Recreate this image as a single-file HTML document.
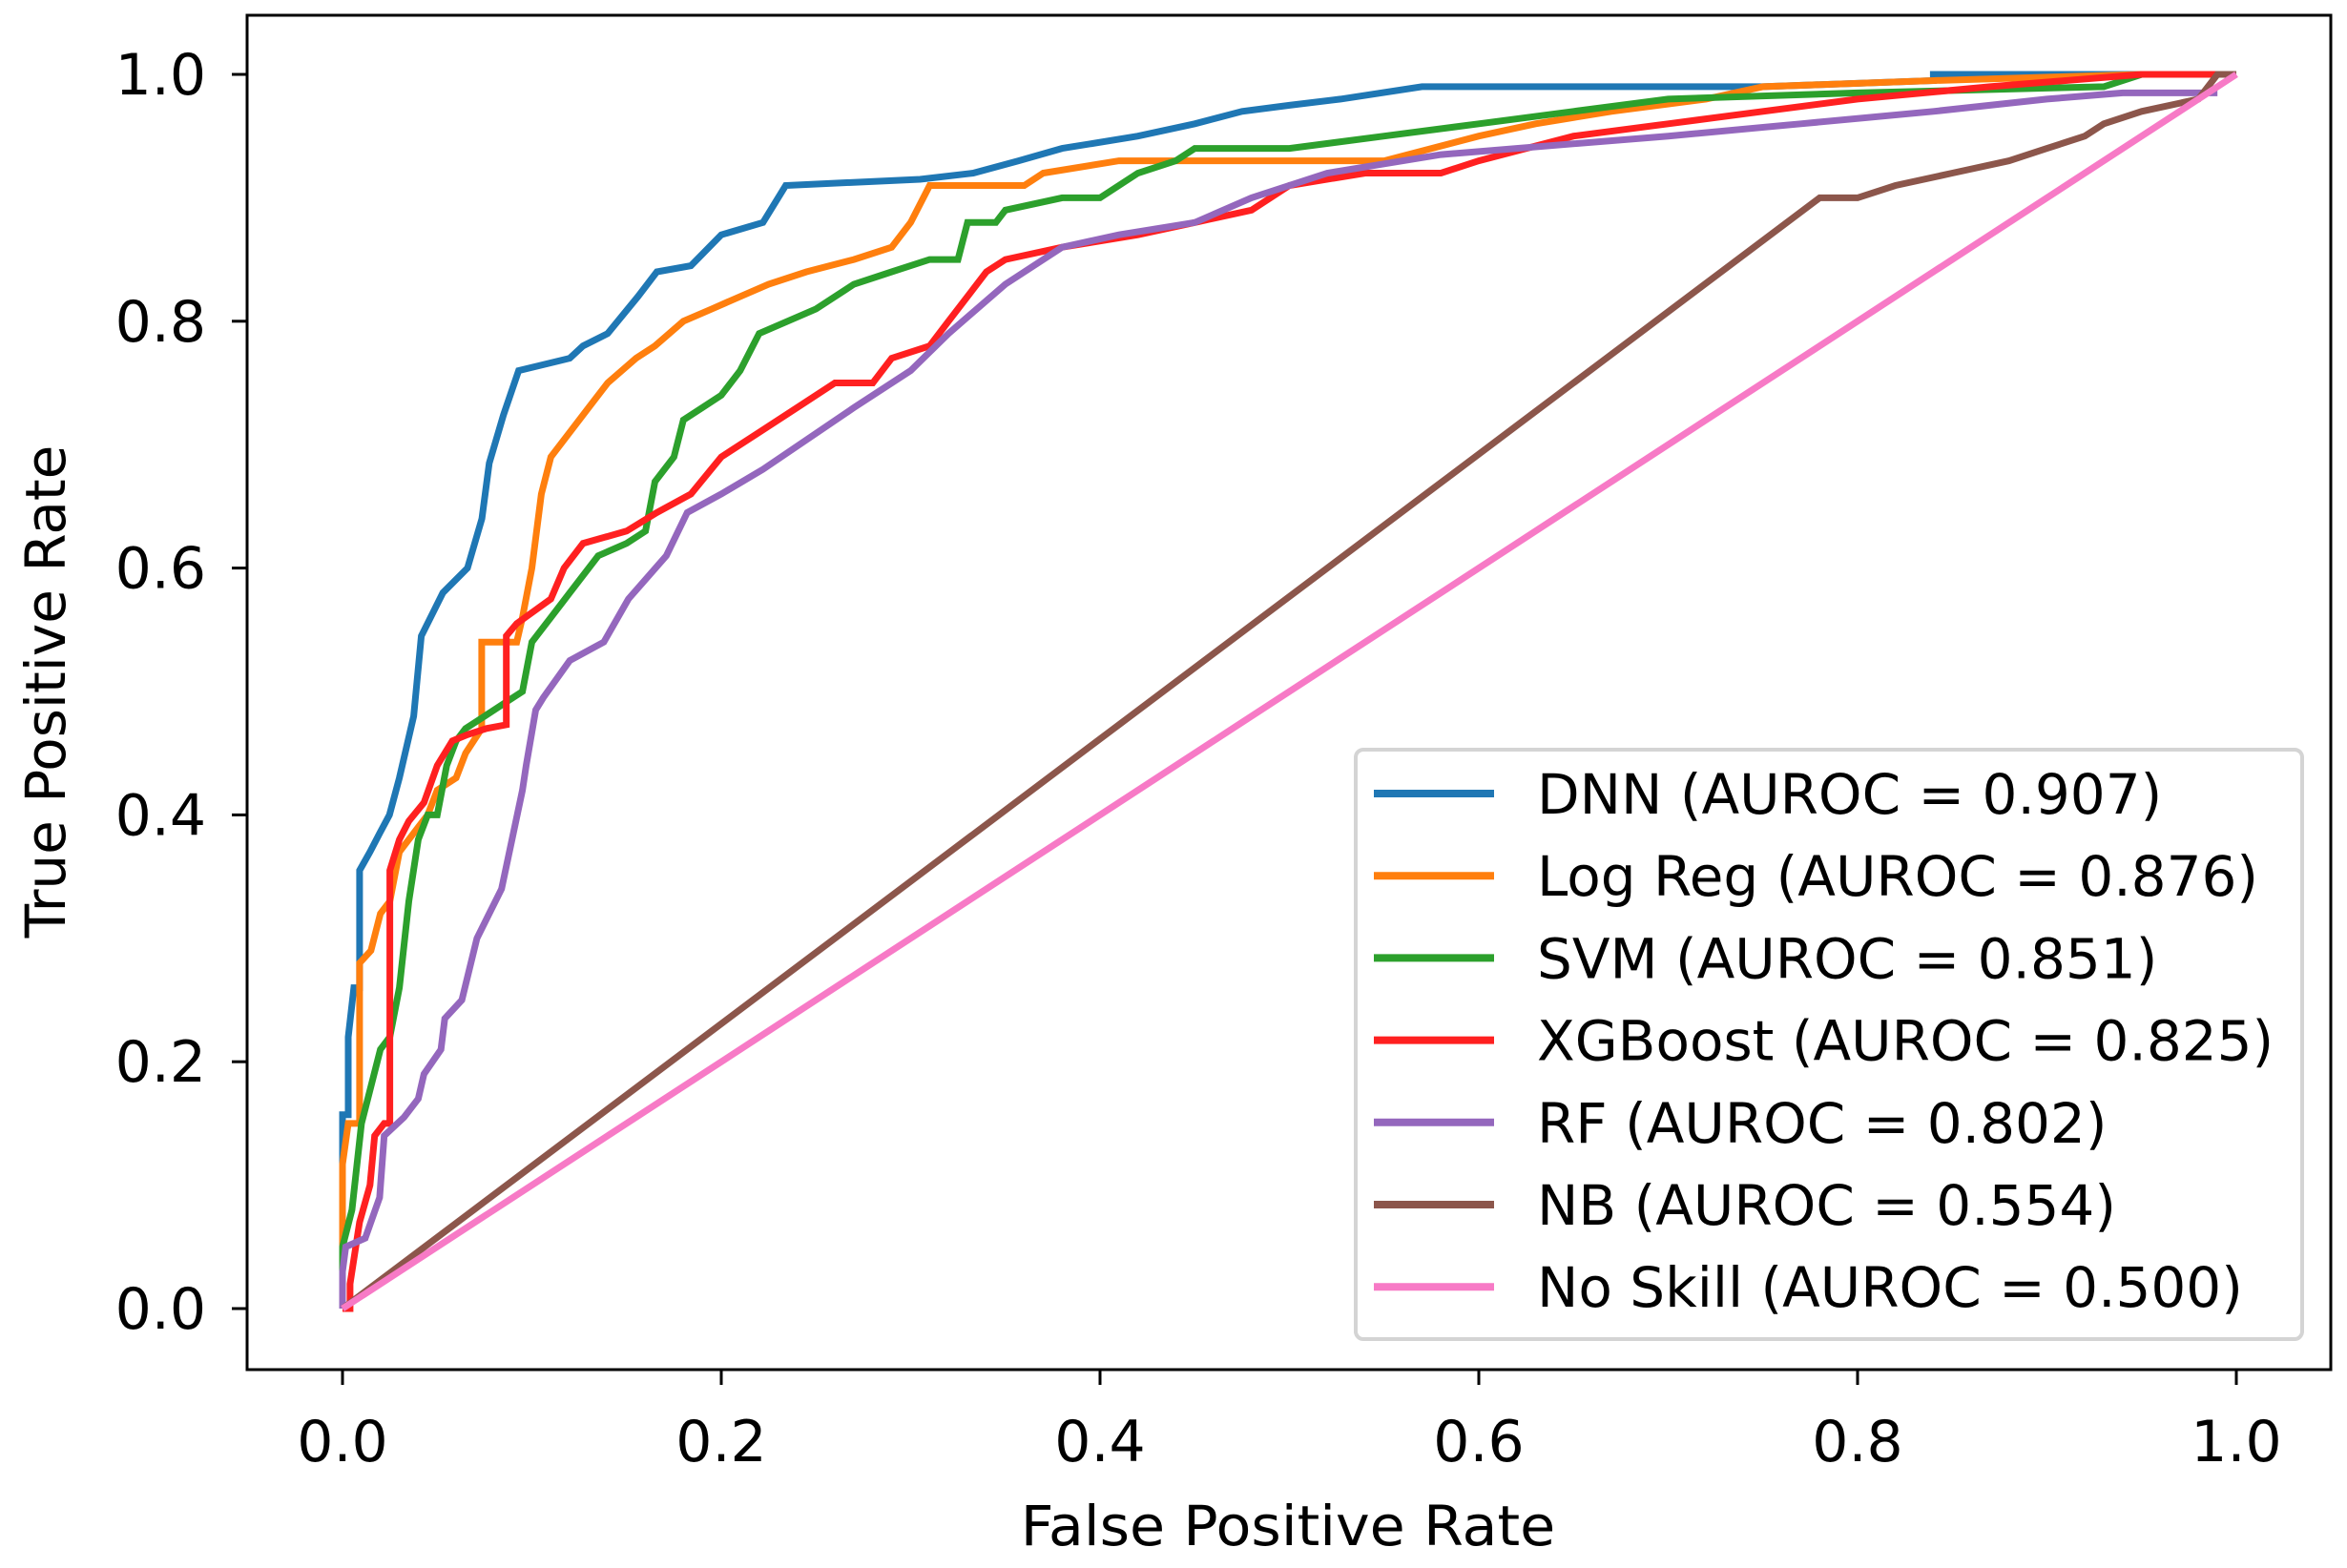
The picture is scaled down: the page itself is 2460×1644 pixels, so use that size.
<!DOCTYPE html>
<html><head><meta charset="utf-8"><style>
body{margin:0;background:#fff;}
svg{display:block;font-family:"DejaVu Sans","Liberation Sans",sans-serif;}
</style></head><body>
<svg id="chart" width="2460" height="1644" viewBox="0 0 2460 1644" xmlns="http://www.w3.org/2000/svg">
<rect width="2460" height="1644" fill="#fff"/>
<g id="series"></g>
<rect x="259" y="16" width="2184" height="1420" fill="none" stroke="#000" stroke-width="3"/>
<g id="ticks"></g>
<text x="1350" y="1620" font-size="58" text-anchor="middle" transform="translate(1350,0) scale(1.04,1) translate(-1350,0)">False Positive Rate</text>
<text transform="translate(68,725) rotate(-90)" font-size="58" text-anchor="middle">True Positive Rate</text>
<g id="legend"></g>
</svg>
<script>
const xTicks=[0,0.2,0.4,0.6,0.8,1.0];
const yTicks=[0,0.2,0.4,0.6,0.8,1.0];
const names=["DNN (AUROC = 0.907)","Log Reg (AUROC = 0.876)","SVM (AUROC = 0.851)","XGBoost (AUROC = 0.825)","RF (AUROC = 0.802)","NB (AUROC = 0.554)","No Skill (AUROC = 0.500)"];
const colors=["#1f77b4","#ff7f0e","#2ca02c","#ff2020","#9467bd","#8c564b","#f77ac6"];
const dnnFpr=[0,0,0.003,0.003,0.006,0.009,0.009,0.0145,0.0196,0.0248,0.03,0.0376,0.0416,0.053,0.066,0.0736,0.0775,0.085,0.093,0.12,0.127,0.14,0.156,0.166,0.184,0.2,0.222,0.234,0.305,0.333,0.357,0.38,0.42,0.45,0.475,0.5,0.527,0.57,0.75,0.84,0.84,1];
const dnnTpr=[0,0.157,0.157,0.22,0.26,0.26,0.355,0.37,0.385,0.40,0.43,0.48,0.545,0.58,0.60,0.64,0.685,0.724,0.76,0.77,0.78,0.79,0.82,0.84,0.845,0.87,0.88,0.91,0.915,0.92,0.93,0.94,0.95,0.96,0.97,0.975,0.98,0.99,0.99,0.995,1,1];
const lrFpr=[0,0,0.003,0.009,0.009,0.015,0.02,0.025,0.03,0.035,0.04,0.045,0.05,0.06,0.065,0.0735,0.0735,0.092,0.095,0.1,0.105,0.11,0.12,0.13,0.14,0.155,0.165,0.18,0.195,0.21,0.225,0.245,0.27,0.29,0.3,0.31,0.36,0.37,0.41,0.55,0.6,0.63,0.67,0.72,0.75,0.84,0.95,1];
const lrTpr=[0,0.117,0.15,0.15,0.28,0.29,0.32,0.33,0.37,0.38,0.39,0.40,0.42,0.43,0.45,0.47,0.54,0.54,0.56,0.60,0.66,0.69,0.71,0.73,0.75,0.77,0.78,0.80,0.81,0.82,0.83,0.84,0.85,0.86,0.88,0.91,0.91,0.92,0.93,0.93,0.95,0.96,0.97,0.98,0.99,0.995,1,1];
const svmFpr=[0,0,0.005,0.01,0.015,0.02,0.025,0.03,0.035,0.04,0.045,0.05,0.055,0.06,0.065,0.075,0.085,0.095,0.1,0.11,0.12,0.135,0.15,0.16,0.165,0.175,0.18,0.19,0.2,0.21,0.22,0.235,0.25,0.27,0.29,0.31,0.325,0.33,0.345,0.35,0.38,0.4,0.42,0.44,0.45,0.5,0.55,0.6,0.65,0.7,0.8,0.93,0.95,1];
const svmTpr=[0,0.05,0.08,0.15,0.18,0.21,0.22,0.26,0.33,0.38,0.40,0.40,0.44,0.46,0.47,0.48,0.49,0.50,0.54,0.56,0.58,0.61,0.62,0.63,0.67,0.69,0.72,0.73,0.74,0.76,0.79,0.80,0.81,0.83,0.84,0.85,0.85,0.88,0.88,0.89,0.90,0.90,0.92,0.93,0.94,0.94,0.95,0.96,0.97,0.98,0.985,0.99,1,1];
const xgbFpr=[0,0.004,0.004,0.009,0.0145,0.017,0.022,0.025,0.025,0.03,0.035,0.043,0.05,0.058,0.066,0.076,0.0865,0.0865,0.092,0.11,0.117,0.127,0.15,0.166,0.184,0.2,0.22,0.24,0.26,0.28,0.29,0.31,0.32,0.33,0.34,0.35,0.38,0.42,0.45,0.48,0.5,0.54,0.58,0.6,0.65,0.7,0.75,0.8,0.87,0.95,1];
const xgbTpr=[0,0,0.02,0.07,0.10,0.14,0.15,0.15,0.355,0.38,0.395,0.41,0.44,0.46,0.465,0.47,0.473,0.545,0.555,0.575,0.60,0.62,0.63,0.645,0.66,0.69,0.71,0.73,0.75,0.75,0.77,0.78,0.80,0.82,0.84,0.85,0.86,0.87,0.88,0.89,0.91,0.92,0.92,0.93,0.95,0.96,0.97,0.98,0.99,1,1];
const rfFpr=[0,0,0.0017,0.012,0.0196,0.022,0.0325,0.04,0.043,0.052,0.054,0.063,0.071,0.084,0.095,0.097,0.102,0.106,0.12,0.138,0.151,0.171,0.182,0.2,0.222,0.27,0.3,0.32,0.35,0.38,0.41,0.45,0.48,0.52,0.58,0.62,0.7,0.77,0.84,0.9,0.94,0.99];
const rfTpr=[0,0.03,0.05,0.057,0.09,0.14,0.155,0.17,0.19,0.21,0.235,0.25,0.30,0.34,0.42,0.44,0.485,0.495,0.525,0.54,0.575,0.61,0.645,0.66,0.68,0.73,0.76,0.79,0.83,0.86,0.87,0.88,0.90,0.92,0.935,0.94,0.95,0.96,0.97,0.98,0.985,0.985];
const nbFpr=[0,0.78,0.8,0.82,0.85,0.88,0.9,0.92,0.93,0.95,0.98,0.99,1];
const nbTpr=[0,0.9,0.9,0.91,0.92,0.93,0.94,0.95,0.96,0.97,0.98,1,1];
const nsFpr=[0,1];
const nsTpr=[0,1];

const NS="http://www.w3.org/2000/svg";
const X=v=>359+1985*v;
const Y=v=>1372-1294*v;
const fprs=[dnnFpr,lrFpr,svmFpr,xgbFpr,rfFpr,nbFpr,nsFpr];
const tprs=[dnnTpr,lrTpr,svmTpr,xgbTpr,rfTpr,nbTpr,nsTpr];
const keys=["dnn","log-reg","svm","xgboost","rf","nb","no-skill"];
const sg=document.getElementById("series");
fprs.forEach((f,i)=>{
  const p=document.createElementNS(NS,"polyline");
  p.setAttribute("points",f.map((v,j)=>X(v).toFixed(1)+","+Y(tprs[i][j]).toFixed(1)).join(" "));
  p.setAttribute("fill","none");p.setAttribute("stroke",colors[i]);
  p.setAttribute("stroke-width","7");p.setAttribute("stroke-linejoin","miter");
  
  
  sg.appendChild(p);
});
const tg=document.getElementById("ticks");
xTicks.forEach(v=>{
  const l=document.createElementNS(NS,"line");
  l.setAttribute("x1",X(v));l.setAttribute("x2",X(v));l.setAttribute("y1",1436);l.setAttribute("y2",1452);
  l.setAttribute("stroke","#000");l.setAttribute("stroke-width","3");
  
  
  tg.appendChild(l);
  const t=document.createElementNS(NS,"text");
  t.setAttribute("x",X(v));t.setAttribute("y",1532);t.setAttribute("font-size","60");t.setAttribute("text-anchor","middle");
  t.textContent=v.toFixed(1);
  
  
  tg.appendChild(t);
});
yTicks.forEach(v=>{
  const l=document.createElementNS(NS,"line");
  l.setAttribute("x1",243);l.setAttribute("x2",259);l.setAttribute("y1",Y(v));l.setAttribute("y2",Y(v));
  l.setAttribute("stroke","#000");l.setAttribute("stroke-width","3");
  
  
  tg.appendChild(l);
  const t=document.createElementNS(NS,"text");
  t.setAttribute("x",216);t.setAttribute("y",Y(v)+21);t.setAttribute("font-size","60");t.setAttribute("text-anchor","end");
  t.textContent=v.toFixed(1);
  
  
  tg.appendChild(t);
});
const lg=document.getElementById("legend");
const box=document.createElementNS(NS,"rect");
box.setAttribute("x",1421);box.setAttribute("y",786);box.setAttribute("width",992);box.setAttribute("height",618);
box.setAttribute("rx",8);box.setAttribute("fill","#fff");box.setAttribute("fill-opacity","0.85");box.setAttribute("stroke","#d4d4d4");box.setAttribute("stroke-width","4");


lg.appendChild(box);
names.forEach((n,i)=>{
  const y=832+86.2*i;
  const l=document.createElementNS(NS,"line");
  l.setAttribute("x1",1440);l.setAttribute("x2",1566);l.setAttribute("y1",y);l.setAttribute("y2",y);
  l.setAttribute("stroke",colors[i]);l.setAttribute("stroke-width","8");
  
  
  lg.appendChild(l);
  const t=document.createElementNS(NS,"text");
  t.setAttribute("x",1611);t.setAttribute("y",y+21);t.setAttribute("font-size","58");
  t.textContent=n;
  
  
  lg.appendChild(t);
});
</script>
</body></html>
